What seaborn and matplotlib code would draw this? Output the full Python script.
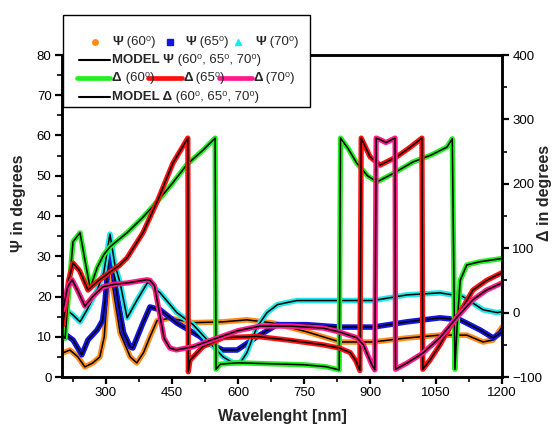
import matplotlib
matplotlib.use("Agg")
import matplotlib.pyplot as plt
import seaborn as sns
import pandas as pd
from matplotlib.lines import Line2D
from matplotlib.patches import Rectangle
from matplotlib.ticker import MultipleLocator, FixedLocator

# ---------------- data ----------------
wl_psi60 = [202, 218, 236, 252, 270, 286, 296, 302, 309, 316, 332, 355, 370, 385, 400, 416, 445, 498,
            566, 620, 680, 757, 832, 907, 984, 1059, 1120, 1157, 1180, 1200]
psi60 = [6.0, 6.7, 5.0, 2.5, 3.5, 5.0, 10, 19, 31, 22, 11, 5, 3.5, 6, 10, 14, 14.6, 13.5,
         13.7, 14.2, 13.4, 11.2, 8.7, 8.7, 9.7, 10.4, 10.4, 8.7, 9.2, 12.4]

wl_psi65 = [202, 215, 225, 245, 259, 280, 292, 298, 309, 318, 327, 340, 355, 361, 384, 400, 423, 461,
            491, 514, 530, 566, 598, 643, 689, 757, 832, 907, 984, 1059, 1105, 1150, 1180, 1200]
psi65 = [11, 10, 9.2, 5.5, 9.2, 11.7, 14, 19, 34, 26, 19, 11, 7.5, 7.2, 13.4, 17.4, 16.7, 13.4,
         11.5, 10, 8.5, 6.7, 6.7, 10, 13, 13, 12.4, 12.4, 13.7, 14.7, 14.2, 11.7, 9.7, 11.2]

wl_psi70 = [202, 225, 241, 257, 280, 295, 309, 320, 332, 348, 370, 395, 423, 461, 498, 530, 566, 589,
            605, 620, 643, 666, 690, 734, 832, 907, 984, 1059, 1111, 1157, 1189, 1200]
psi70 = [17.4, 15.4, 13.7, 16.7, 21.6, 26, 35.5, 28, 23.4, 14.7, 19, 23.6, 20.9, 16, 13, 9.2, 5, 3.5,
         3.5, 6, 12.4, 16, 18, 19, 19, 19, 20.4, 20.9, 20, 16.7, 16, 16.2]

wl_d60 = [202, 207, 215, 225, 241, 252, 264, 280, 295, 309, 330, 348, 384, 416, 450, 484, 520, 548, 550,
          560, 600, 650, 700, 750, 800, 830, 833, 850, 870, 895, 916, 950, 998, 1040, 1075, 1087, 1093,
          1098, 1105, 1120, 1150, 1200]
d60 = [-36, -40, 30, 110, 124, 82, 38, 70, 90, 102, 114, 124, 148, 172, 200, 230, 252, 271, -88,
       -80, -78, -79, -80, -81, -84, -89, 271, 255, 232, 212, 203, 215, 234, 245, 257, 270, -88,
       -20, 50, 74, 79, 84]

wl_d65 = [202, 215, 225, 240, 259, 280, 309, 330, 348, 384, 418, 452, 486, 487, 491, 520, 566, 643, 718,
          793, 830, 855, 868, 877, 880, 900, 923, 961, 990, 1018, 1020, 1036, 1059, 1082, 1098, 1134,
          1165, 1200]
d65 = [-19, 50, 77, 65, 35, 48, 63, 73, 85, 124, 175, 232, 271, -92, -74, -53, -39, -37, -43,
       -50, -55, -62, -75, -90, 271, 242, 229, 242, 256, 271, -88, -74, -50, -22, -7, 35,
       50, 62]

wl_d70 = [202, 213, 223, 235, 252, 270, 293, 320, 348, 393, 400, 410, 420, 432, 445, 460, 498, 530, 559,
          600, 650, 718, 793, 830, 870, 885, 893, 905, 911, 914, 925, 936, 948, 957, 958, 985, 1020,
          1059, 1098, 1134, 1165, 1200]
d70 = [4, 40, 51, 35, 10, 25, 40, 44, 46, 51, 50, 42, 5, -40, -55, -58, -53, -45, -38,
       -28, -21, -21, -24, -30, -39, -50, -63, -82, -89, 271, 268, 264, 268, 271, -88, -78, -63,
       -39, -7, 20, 35, 46]

psi_labels = ["Ψ (60⁰)", "Ψ (65⁰)", "Ψ (70⁰)"]
delta_labels = ["Δ (60⁰)", "Δ (65⁰)", "Δ (70⁰)"]

psi_colors = ["#FF8C1A", "#1414E0", "#20E8E8"]
delta_colors = ["#22EE22", "#FF1010", "#FF1A8C"]

# ---------------- figure ----------------
sns.set_style("white")
FAM = ["Liberation Sans", "DejaVu Sans"]
plt.rcParams["font.family"] = FAM

W, H = 555, 430
fig = plt.figure(figsize=(W / 100, H / 100), dpi=100)
ax = fig.add_axes([62 / W, 1 - 377 / H, 440 / W, 322 / H])
ax2 = ax.twinx()


def draw(axis, wl, vals, color, lw):
    df = pd.DataFrame({"wl": wl, "v": vals})
    sns.lineplot(data=df, x="wl", y="v", ax=axis, color=color, lw=lw,
                 estimator=None, sort=False, legend=False)


for wl, v, c in zip([wl_psi60, wl_psi65, wl_psi70], [psi60, psi65, psi70], psi_colors):
    draw(ax, wl, v, c, 4.0)
    draw(ax, wl, v, "black", 1.1)

for wl, v, c in zip([wl_d60, wl_d65, wl_d70], [d60, d65, d70], delta_colors):
    draw(ax2, wl, v, c, 3.8)
    draw(ax2, wl, v, "black", 1.1)

ax.set_xlim(200, 1200)
ax.set_ylim(0, 80)
ax2.set_ylim(-100, 400)
ax.xaxis.set_major_locator(FixedLocator([300, 450, 600, 750, 900, 1050, 1200]))
ax.xaxis.set_minor_locator(FixedLocator([225, 375, 525, 675, 825, 975, 1125]))
ax.yaxis.set_major_locator(MultipleLocator(10))
ax.yaxis.set_minor_locator(MultipleLocator(5))
ax2.yaxis.set_major_locator(MultipleLocator(100))
ax2.yaxis.set_minor_locator(MultipleLocator(50))

for a in (ax, ax2):
    for s in a.spines.values():
        s.set_linewidth(1.8)
        s.set_color("black")
    a.tick_params(which="major", direction="out", length=5, width=1.6, labelsize=9.5,
                  colors="black", pad=2.5)
    a.tick_params(which="minor", direction="out", length=3.5, width=1.4)
    a.set_facecolor("none")
ax.tick_params(axis="y", which="both", left=True, right=False)
ax.tick_params(axis="x", which="both", bottom=True)
ax2.tick_params(axis="y", which="both", right=True, left=False)

ax.set_xlabel("Wavelenght [nm]", fontsize=11.5, fontweight="bold", labelpad=7)
ax.set_ylabel("")
ax2.set_ylabel("")


# ---------------- helpers in figure pixels ----------------
def fx(px):
    return px / W


def fy(py):
    return 1 - py / H


fig.text(fx(19), fy(203), "Ψ in degrees", fontsize=11.5, fontweight="bold", rotation=90,
         ha="center", va="center")
fig.text(fx(545), fy(193), "Δ in degrees", fontsize=11.5, fontweight="bold", rotation=90,
         ha="center", va="center")

# ---------------- legend ----------------
fig.add_artist(Rectangle((fx(63), fy(107)), fx(310) - fx(63), fy(15) - fy(107),
                         transform=fig.transFigure, facecolor="white", edgecolor="black",
                         lw=1.0, zorder=10))

fig.canvas.draw()
renderer = fig.canvas.get_renderer()
FS = 9.5


def put(x, y, pieces):
    for s, wgt in pieces:
        t = fig.text(fx(x), fy(y), s, fontsize=FS, fontweight=wgt, va="center", ha="left",
                     family=FAM, zorder=12)
        bb = t.get_window_extent(renderer)
        x = x + bb.width


def swatch(x0, x1, y, color, lw):
    fig.add_artist(Line2D([fx(x0), fx(x1)], [fy(y), fy(y)], transform=fig.transFigure,
                          color=color, lw=lw, zorder=11, solid_capstyle="round"))


markers = ["o", "s", "^"]
for xm, xt, c, m, lab in zip([95, 170, 238], [112, 185, 255], psi_colors, markers, psi_labels):
    fig.add_artist(Line2D([fx(xm)], [fy(42)], transform=fig.transFigure, marker=m,
                          markersize=4, color=c, lw=0, zorder=11))
    put(xt, 42, [(lab[0], "bold"), (lab[1:], "normal")])

swatch(79, 110, 60, "black", 1.5)
put(112, 60, [("MODEL Ψ", "bold"), (" (60⁰, 65⁰, 70⁰)", "normal")])

for x0, x1, xt, c, lab in zip([77, 148, 219], [110, 182, 252], [112, 183, 253],
                              delta_colors, delta_labels):
    swatch(x0, x1, 78, c, 3.4)
    put(xt, 78, [(lab[0], "bold"), (lab[1:], "normal")])

swatch(79, 110, 97, "black", 1.5)
put(112, 97, [("MODEL Δ", "bold"), (" (60⁰, 65⁰, 70⁰)", "normal")])

fig.savefig("out.png", dpi=100)
